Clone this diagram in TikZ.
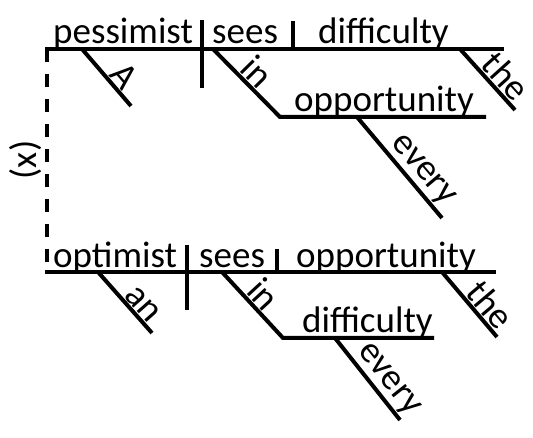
\documentclass[tikz,border=0pt]{standalone}
\usepackage{fontspec}
\setmainfont{Carlito}
\begin{document}
\begin{tikzpicture}[x=1pt,y=-1pt,
  rule/.style={line width=4pt},
  dashrule/.style={line width=4pt, dash pattern=on 13pt off 12pt},
  wordfont/.style={font=\fontsize{37}{40}\selectfont},
  word/.style={wordfont, inner sep=0pt, anchor=base west},
  slant/.style={wordfont, inner sep=1pt, sloped, above}]
\useasboundingbox (0,0) rectangle (533,438);
% ---------- top clause ----------
\coordinate (tL) at (45,49);  \coordinate (tR) at (504,49);
\coordinate (tD1a) at (202,20); \coordinate (tD1b) at (202,88);
\coordinate (tD2a) at (293,21); \coordinate (tD2b) at (293,49);
\coordinate (tAa) at (82,49);   \coordinate (tAb) at (131,106);
\coordinate (tIa) at (213,49);  \coordinate (tIb) at (280,117);
\coordinate (tOR) at (486,117);
\coordinate (tEa) at (357,117); \coordinate (tEb) at (442,218);
\coordinate (tTa) at (460,49);  \coordinate (tTb) at (515,110);
% ---------- bottom clause ----------
\coordinate (bL) at (45,272);  \coordinate (bR) at (496,272);
\coordinate (bD1a) at (187,245); \coordinate (bD1b) at (187,310);
\coordinate (bD2a) at (277,249); \coordinate (bD2b) at (277,272);
\coordinate (bAa) at (98,272);   \coordinate (bAb) at (152,333);
\coordinate (bIa) at (222,272);  \coordinate (bIb) at (283,338);
\coordinate (bDR) at (434,338);
\coordinate (bEa) at (335,338);  \coordinate (bEb) at (400,420);
\coordinate (bTa) at (442,272);  \coordinate (bTb) at (497,337);
% dashed link
\coordinate (dTop) at (47,49); \coordinate (dBot) at (47,272);
\draw[dashrule] (dTop) -- (dBot);
\node[wordfont, rotate=90, inner sep=0pt] (x) at (26,160) {(x)};
% top lines
\draw[rule] (tL) -- (tR);
\draw[rule] (tD1a) -- (tD1b);
\draw[rule] (tD2a) -- (tD2b);
\draw[rule] (tAa) -- node[slant, pos=0.64] (wA) {A} (tAb);
\draw[rule] (tIa) -- node[slant, pos=0.5] (wIn1) {in} (tIb) -- (tOR);
\draw[rule] (tEa) -- node[slant, pos=0.63] (wEvery1) {every} (tEb);
\draw[rule] (tTa) -- node[slant, pos=0.62] (wThe1) {the} (tTb);
\node[word] (wPess) at (53,44) {pessimist};
\node[word] (wSees1) at (212,44) {sees};
\node[word] (wDiff1) at (318,44) {difficulty};
\node[word] (wOpp1) at (294,112) {opportunity};
% bottom lines
\draw[rule] (bL) -- (bR);
\draw[rule] (bD1a) -- (bD1b);
\draw[rule] (bD2a) -- (bD2b);
\draw[rule] (bAa) -- node[slant, pos=0.66] (wAn) {an} (bAb);
\draw[rule] (bIa) -- node[slant, pos=0.5] (wIn2) {in} (bIb) -- (bDR);
\draw[rule] (bEa) -- node[slant, pos=0.63] (wEvery2) {every} (bEb);
\draw[rule] (bTa) -- node[slant, pos=0.66] (wThe2) {the} (bTb);
\node[word] (wOpt) at (53,268) {optimist};
\node[word] (wSees2) at (199,268) {sees};
\node[word] (wOpp2) at (296,268) {opportunity};
\node[word] (wDiff2) at (302,333) {difficulty};
\end{tikzpicture}
\end{document}
